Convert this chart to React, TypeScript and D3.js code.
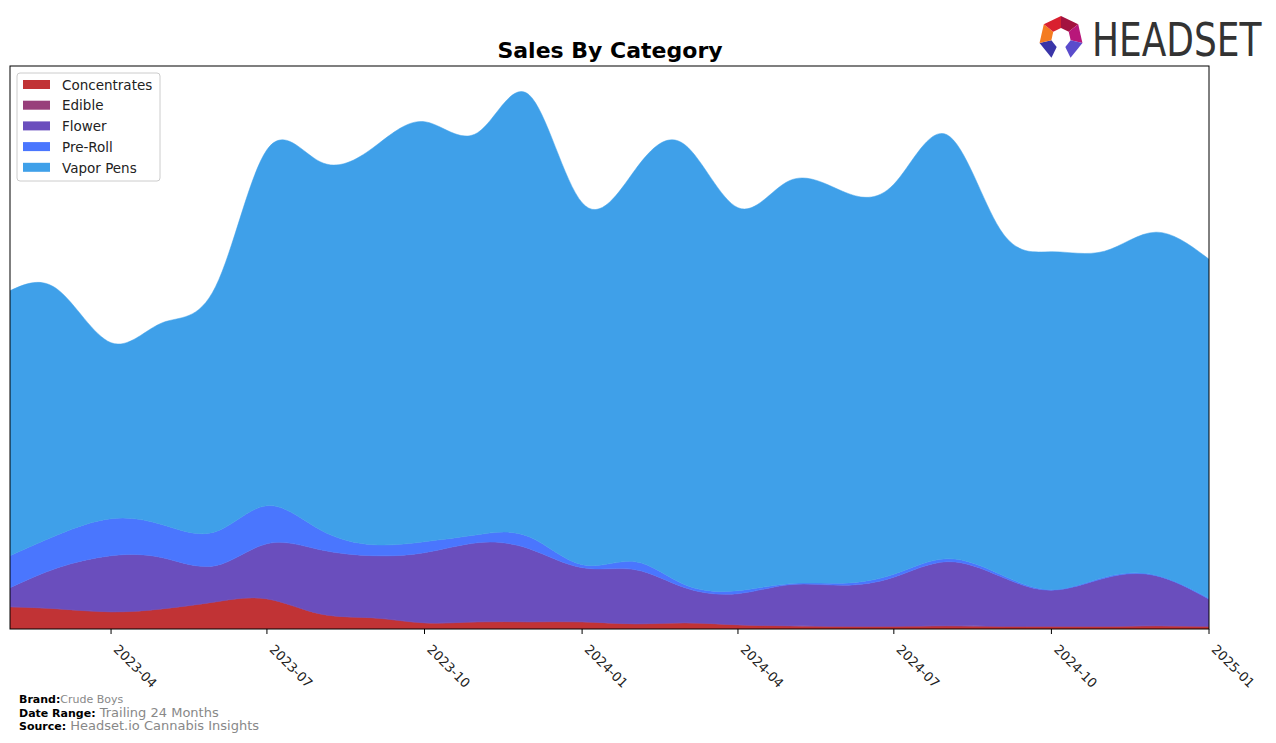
import React, { useEffect, useRef } from "react";
import * as d3 from "d3";

const months = [
  "2023-02", "2023-03", "2023-04", "2023-05", "2023-06", "2023-07", "2023-08", "2023-09",
  "2023-10", "2023-11", "2023-12", "2024-01", "2024-02", "2024-03", "2024-04", "2024-05",
  "2024-06", "2024-07", "2024-08", "2024-09", "2024-10", "2024-11", "2024-12", "2025-01",
];
const concentrates = [22, 20, 17, 20, 27, 30, 15, 11, 6, 7, 7, 7, 5, 6, 4, 3, 2.5, 2.5, 3, 2.5, 2.5, 2.5, 3, 2.5];
const edible = [0.3, 0.3, 0.3, 0.3, 0.3, 0.3, 0.3, 0.3, 0.3, 0.3, 0.3, 0.3, 0.3, 0.3, 0.3, 0.3, 0.3, 0.3, 0.3, 0.3, 0.3, 0.3, 0.3, 0.3];
const flower = [19, 41, 56, 51, 36, 55, 64, 62, 70, 79, 73, 54, 54, 35, 31, 41, 41, 49, 64, 50, 36, 48, 50, 27];
const preRoll = [32, 33, 37, 33, 34, 38, 20, 11, 11, 8, 12, 3, 8, 3, 3, 1, 2, 3, 3, 2, 0.5, 1, 0.5, 1];
const vaporPens = [265, 245, 176, 202, 245, 356, 368, 397, 420, 402, 442, 362, 392, 440, 383, 403, 392, 390, 424, 345, 338, 326, 343, 339];

const categories = ["Concentrates", "Edible", "Flower", "Pre-Roll", "Vapor Pens"];
const colors = ["#c13335", "#983f7b", "#6a4ebd", "#4a76fe", "#3fa0e9"];
const tickLabels = ["2023-04", "2023-07", "2023-10", "2024-01", "2024-04", "2024-07", "2024-10", "2025-01"];

function App() {
  const ref = useRef<SVGSVGElement>(null);

  useEffect(() => {
    const svg = d3.select(ref.current);
    svg.selectAll("*").remove();

    const left = 10, right = 1209, top = 66, bottom = 629;
    const parse = d3.timeParse("%Y-%m");
    const rows = months.map((m, i) => ({
      date: parse(m) as Date,
      "Concentrates": concentrates[i],
      "Edible": edible[i],
      "Flower": flower[i],
      "Pre-Roll": preRoll[i],
      "Vapor Pens": vaporPens[i],
    }));

    const x = d3.scaleTime()
      .domain([rows[0].date, rows[rows.length - 1].date])
      .range([left, right]);
    const y = d3.scaleLinear().domain([0, bottom - top]).range([bottom, top]);

    const stack = d3.stack<any>().keys(categories);
    const series = stack(rows);

    const area = d3.area<any>()
      .x((d) => x(d.data.date))
      .y0((d) => y(d[0]))
      .y1((d) => y(d[1]))
      .curve(d3.curveNatural);

    const plot = svg.append("g");
    plot.append("defs").append("clipPath").attr("id", "clip")
      .append("rect").attr("x", left).attr("y", top).attr("width", right - left).attr("height", bottom - top);

    plot.append("g").attr("clip-path", "url(#clip)")
      .selectAll("path")
      .data(series)
      .enter()
      .append("path")
      .attr("d", area)
      .attr("fill", (_, i) => colors[i])
      .attr("stroke", (_, i) => colors[i])
      .attr("stroke-width", 0.5);

    plot.append("rect")
      .attr("x", left).attr("y", top)
      .attr("width", right - left).attr("height", bottom - top)
      .attr("fill", "none").attr("stroke", "black").attr("stroke-width", 1);

    // x axis
    const ticks = tickLabels.map((t) => parse(t) as Date);
    const axis = svg.append("g").selectAll("g").data(ticks).enter().append("g")
      .attr("transform", (d) => `translate(${x(d)},${bottom})`);
    axis.append("line").attr("y2", 5).attr("stroke", "black");
    axis.append("text")
      .attr("transform", "translate(5,18) rotate(45)")
      .attr("font-family", "DejaVu Sans")
      .attr("font-size", 13)
      .attr("fill", "#222")
      .attr("dy", "0.35em")
      .text((_, i) => tickLabels[i]);

    // title
    svg.append("text")
      .attr("x", 610).attr("y", 58)
      .attr("text-anchor", "middle")
      .attr("font-family", "DejaVu Sans")
      .attr("font-weight", "bold")
      .attr("font-size", 22)
      .text("Sales By Category");

    // legend
    const lg = svg.append("g");
    lg.append("rect")
      .attr("x", 17).attr("y", 73).attr("width", 143).attr("height", 108)
      .attr("rx", 3).attr("fill", "white").attr("stroke", "#ccc");
    const items = lg.selectAll("g.item").data(categories).enter().append("g")
      .attr("transform", (_, i) => `translate(0, ${85 + i * 20.7})`);
    items.append("rect").attr("x", 23).attr("y", -5).attr("width", 27).attr("height", 9)
      .attr("fill", (_, i) => colors[i]);
    items.append("text").attr("x", 62).attr("y", 0).attr("dy", "0.35em")
      .attr("font-family", "DejaVu Sans").attr("font-size", 13.5).attr("fill", "#222")
      .text((d) => d);

    // footer
    const foot = [
      ["Brand:", "Crude Boys", 11],
      ["Date Range:", "Trailing 24 Months", 13],
      ["Source:", "Headset.io Cannabis Insights", 13],
    ];
    foot.forEach(([label, value, size], i) => {
      const t = svg.append("text")
        .attr("x", 19).attr("y", 703 + i * 13.5)
        .attr("font-family", "DejaVu Sans");
      t.append("tspan").attr("font-weight", "bold").attr("font-size", 11).attr("fill", "black").text(label as string);
      t.append("tspan").attr("font-size", size as number).attr("fill", "#888").text((i === 0 ? "" : " ") + value);
    });

    // logo
    const logo = svg.append("g").attr("transform", "translate(1061,38)");
    const r = 22;
    const pts = d3.range(7).map((k) => {
      const a = -Math.PI / 2 + (k * 2 * Math.PI) / 7;
      return [Math.cos(a) * r, Math.sin(a) * r];
    });
    const logoColors = ["#a3123f", "#b8177a", "#5a4ccc", "", "#3a35a8", "#f47b20", "#d9202f"];
    for (let k = 0; k < 7; k++) {
      if (k === 3) continue;
      const p1 = pts[k], p2 = pts[(k + 1) % 7];
      const q1 = [p1[0] * 0.45, p1[1] * 0.45], q2 = [p2[0] * 0.45, p2[1] * 0.45];
      logo.append("path")
        .attr("d", `M${p1}L${p2}L${q2}L${q1}Z`)
        .attr("fill", logoColors[k]);
    }
    svg.append("text")
      .attr("transform", "translate(1092,56) scale(0.85,1)")
      .attr("font-family", "DejaVu Sans Condensed, DejaVu Sans")
      .attr("font-size", 47)
      .attr("fill", "#333")
      .text("HEADSET");
  }, []);

  return (
    <svg ref={ref} width={1276} height={743}
      style={{ position: "absolute", left: 0, top: 0, background: "white" }} />
  );
}

export default App;
